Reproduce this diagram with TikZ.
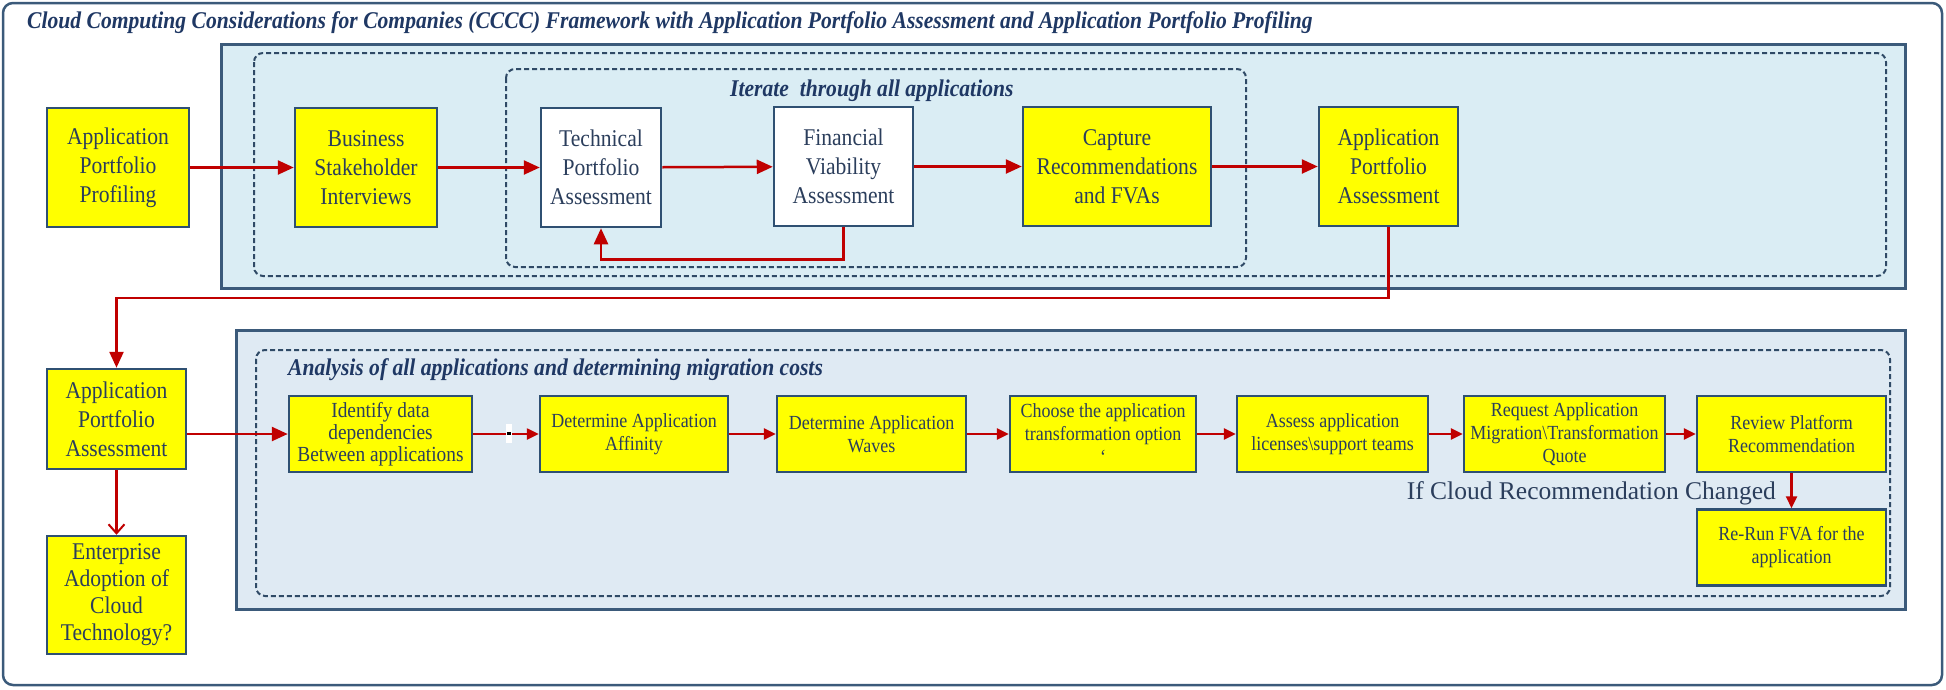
\documentclass[tikz,border=0pt]{standalone}
\usepackage{fontspec}
\setmainfont{Liberation Serif}[FakeStretch=0.9]
\newfontfamily\widefont{Liberation Serif}
\usetikzlibrary{arrows.meta}
\definecolor{yel}{HTML}{FFFF00}
\definecolor{boxc}{HTML}{2F5072}
\definecolor{panc}{HTML}{3B5A7A}
\definecolor{topfill}{HTML}{DAEDF4}
\definecolor{botfill}{HTML}{DFEAF3}
\definecolor{dashc}{HTML}{2F4A66}
\definecolor{redc}{HTML}{C00000}
\definecolor{txtc}{HTML}{2B3E5C}
\definecolor{titc}{HTML}{1F3864}
\tikzset{
  bigbox/.style={draw=boxc, line width=2.5pt, fill=yel, text=txtc, align=center, inner sep=0pt,
    font=\fontsize{24}{29}\selectfont},
  smallbox/.style={draw=boxc, line width=2.5pt, fill=yel, text=txtc, align=center, inner sep=0pt,
    minimum height=76pt, font=\fontsize{20}{23}\selectfont},
  whitebox/.style={bigbox, fill=white},
  panel/.style={draw=panc, line width=3pt},
  dashbox/.style={draw=dashc, line width=2pt, dash pattern=on 5pt off 3pt, rounded corners=9pt},
  arr/.style={draw=redc, line width=2.5pt, -{Triangle[length=16pt,width=14pt]}},
  sarr/.style={draw=redc, line width=2.5pt, -{Triangle[length=12pt,width=11pt]}},
  oarr/.style={draw=redc, line width=2.5pt, -{Straight Barb[length=9pt,width=16pt,line width=2pt]}},
  lbl/.style={text=titc, inner sep=0pt, font=\fontsize{24}{28}\selectfont\bfseries\itshape},
}
\begin{document}
\begin{tikzpicture}[x=1pt,y=-1pt]
\useasboundingbox (0,0) rectangle (1946,689);
% outer frame
\draw[draw=panc, line width=2.5pt, rounded corners=10pt, fill=white] (3,3) rectangle (1942,685);
\node[lbl, anchor=west] (title) at (27,23)
  {Cloud Computing Considerations for Companies (CCCC) Framework with Application Portfolio Assessment and Application Portfolio Profiling};
% top panel
\draw[panel, fill=topfill] (221,44) rectangle (1905,288);
\draw[dashbox] (254,53) rectangle (1886,276);
\draw[dashbox] (506,69) rectangle (1246,267);
\node[lbl, anchor=west] (iter) at (730,91) {Iterate\ \ through all applications};
% bottom panel
\draw[panel, fill=botfill] (236,330) rectangle (1905,609);
\draw[dashbox] (256,350) rectangle (1890,596);
\node[lbl, anchor=west] (anal) at (288,370) {Analysis of all applications and determining migration costs};
% top row
\node[bigbox, minimum width=142pt, minimum height=119pt] (b1) at (118,167.5) {Application\\Portfolio\\Profiling};
\node[bigbox, minimum width=142pt, minimum height=119pt] (b2) at (366,167.5) {Business\\Stakeholder\\Interviews};
\node[whitebox, minimum width=120pt, minimum height=119pt] (b3) at (601,167.5) {Technical\\Portfolio\\Assessment};
\node[whitebox, minimum width=139pt, minimum height=119pt] (b4) at (843.5,166.5) {Financial\\Viability\\Assessment};
\node[bigbox, minimum width=188pt, minimum height=119pt] (b5) at (1117,166.5) {Capture\\Recommendations\\and FVAs};
\node[bigbox, minimum width=139pt, minimum height=119pt] (b6) at (1388.5,166.5) {Application\\Portfolio\\Assessment};
% left column
\node[bigbox, minimum width=139pt, minimum height=100pt] (b7) at (116.5,419) {Application\\Portfolio\\Assessment};
\node[bigbox, minimum width=139pt, minimum height=118pt, font=\fontsize{24}{27}\selectfont] (b8) at (116.5,595) {Enterprise\\Adoption of\\Cloud\\Technology?};
% bottom row
\node[smallbox, minimum width=183pt, font=\fontsize{21.5}{22}\selectfont] (c1) at (380.5,434) {Identify data\\dependencies\\Between applications};
\node[smallbox, minimum width=188pt] (c2) at (634,434) {Determine Application\\Affinity};
\node[smallbox, minimum width=189pt] (c3) at (871.5,434) {Determine Application\\Waves};
\node[smallbox, minimum width=186pt] (c4) at (1103,434) {Choose the application\\transformation option\\‘};
\node[smallbox, minimum width=191pt] (c5) at (1332.5,434) {Assess application\\licenses\textbackslash support teams};
\node[smallbox, minimum width=201pt] (c6) at (1564.5,434) {Request Application\\Migration\textbackslash Transformation\\Quote};
\node[smallbox, minimum width=189pt] (c7) at (1791.5,434) {Review Platform\\Recommendation};
\node[smallbox, minimum width=189pt] (c8) at (1791.5,547.5) {Re-Run FVA for the\\application};
\node[text=txtc, inner sep=0pt, anchor=east, font=\widefont\fontsize{25.5}{28}\selectfont] (chg) at (1776,493) {If Cloud Recommendation Changed};
% connectors top
\draw[arr] (b1) -- (b2);
\draw[arr] (b2) -- (b3);
\draw[arr] (b3) -- (b4);
\draw[arr] (b4) -- (b5);
\draw[arr] (b5) -- (b6);
\draw[arr] (b4.south) -- ++(0,32) -| (b3.south);
\coordinate (turn) at (0,298);
\draw[arr] (b6.south) -- (b6.south |- turn) -| (b7.north);
\draw[oarr] (b7.south) -- (b8.north);
\draw[arr] (b7.east |- c1.west) -- (c1.west);
% connectors bottom
\draw[sarr] (c1) -- (c2);
\draw[sarr] (c2) -- (c3);
\draw[sarr] (c3) -- (c4);
\draw[sarr] (c4) -- (c5);
\draw[sarr] (c5) -- (c6);
\draw[sarr] (c6) -- (c7);
\draw[sarr] (c7) -- (c8);
% small artifact mark
\fill[white] (506,424) rectangle (512,443);
\fill[black] (507,432) rectangle (511,435);
\end{tikzpicture}
\end{document}
